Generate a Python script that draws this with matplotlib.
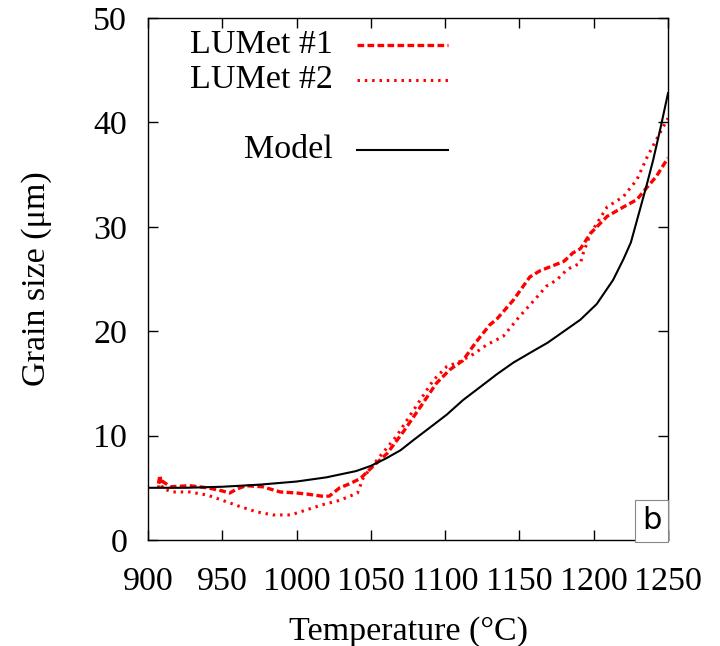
import matplotlib
matplotlib.use("Agg")
import matplotlib.pyplot as plt

# LUMet #1 (dashed)
t1 = [907, 908, 909, 910, 915, 928, 940, 950, 955, 960, 966, 977, 989, 1000, 1007, 1017,
      1022, 1029, 1036, 1043, 1051, 1061, 1072, 1085, 1094, 1103, 1112, 1121, 1130, 1135,
      1146, 1157, 1164, 1173, 1180, 1186, 1191, 1198, 1209, 1220, 1229, 1236, 1242, 1250]
v1 = [5.4, 6.2, 5.3, 5.6, 5.1, 5.2, 5.0, 4.7, 4.5, 4.9, 5.2, 5.1, 4.6, 4.5, 4.4, 4.2,
      4.2, 5.0, 5.4, 5.9, 7.0, 8.3, 10.4, 13.1, 15.0, 16.3, 17.2, 19.0, 20.6, 21.2,
      23.0, 25.2, 25.8, 26.3, 26.7, 27.5, 27.9, 29.4, 31.0, 31.9, 32.6, 33.8, 34.8, 36.6]

# LUMet #2 (dotted)
t2 = [907, 908, 910, 917, 928, 940, 950, 962, 973, 984, 996, 1007, 1018, 1029, 1041, 1045,
      1056, 1067, 1079, 1092, 1101, 1110, 1119, 1128, 1139, 1150, 1162, 1168, 1175, 1182,
      1186, 1191, 1193, 1198, 1209, 1220, 1229, 1236, 1242, 1248, 1250]
v2 = [5.0, 5.8, 4.9, 4.6, 4.6, 4.3, 3.8, 3.2, 2.7, 2.4, 2.4, 2.9, 3.4, 3.8, 4.5, 6.0,
      8.0, 9.9, 12.5, 15.3, 16.6, 17.1, 17.8, 18.7, 19.5, 21.4, 23.3, 24.3, 24.9, 25.9,
      26.2, 26.5, 27.5, 29.4, 31.9, 32.9, 34.5, 36.7, 38.3, 39.9, 40.4]

# Model
tm = [900, 925, 950, 975, 1000, 1020, 1040, 1050, 1060, 1070, 1078, 1090, 1101, 1112, 1124,
      1135, 1146, 1158, 1169, 1180, 1191, 1202, 1213, 1220, 1225, 1231, 1236, 1240, 1245, 1250]
vm = [5.0, 5.0, 5.1, 5.3, 5.6, 6.0, 6.6, 7.1, 7.8, 8.6, 9.5, 10.8, 12.0, 13.4, 14.7,
      15.9, 17.0, 18.0, 18.9, 20.0, 21.1, 22.6, 24.9, 26.9, 28.5, 31.6, 34.2, 36.4, 39.5, 42.8]

labels = ["LUMet #1", "LUMet #2", "Model"]
xticks = [900, 950, 1000, 1050, 1100, 1150, 1200, 1250]
yticks = [0, 10, 20, 30, 40, 50]

plt.rcParams['font.family'] = ['Liberation Serif', 'DejaVu Serif']
FS = 24.5

fig = plt.figure(figsize=(7.2, 6.46), dpi=100)
ax = fig.add_axes([0.2056, 0.1641, 0.7222, 0.8080])

red_dash = dict(color='#ff0000', lw=2.4, linestyle=(0, (2.0, 1.0)))
red_dot = dict(color='#ff0000', lw=2.2, linestyle=(0, (0.8, 1.6)))
black = dict(color='black', lw=1.5, linestyle='-')

ax.plot(t1, v1, **red_dash)
ax.plot(t2, v2, **red_dot)
ax.plot(tm, vm, **black)

ax.set_xlim(900, 1250)
ax.set_ylim(0, 50)
ax.set_xticks(xticks)
ax.set_yticks(yticks)
ax.tick_params(direction='in', top=True, right=True, length=7, width=1,
               labelsize=FS)
ax.tick_params(axis='x', pad=19)
ax.tick_params(axis='y', pad=15)
for s in ax.spines.values():
    s.set_linewidth(1.0)

ax.set_xlabel("Temperature (°C)", fontsize=FS, labelpad=14)
ax.set_ylabel("Grain size (μm)", fontsize=FS, labelpad=30)

# manual legend (right-aligned labels)
leg_y = [0.948, 0.881, 0.747]
styles = [red_dash, red_dot, black]
for lab, yy, st in zip(labels, leg_y, styles):
    ax.text(0.356, yy, lab, transform=ax.transAxes, ha='right', va='center', fontsize=FS)
    ax.plot([0.402, 0.577], [yy, yy], transform=ax.transAxes, clip_on=False, **st)

# panel label
ax.text(0.969, 0.0365, "b", transform=ax.transAxes, ha='center', va='center',
        fontsize=22, family='DejaVu Sans',
        bbox=dict(boxstyle='square,pad=0.22', fc='white', ec='#888888', lw=0.8))

fig.savefig("out.png", dpi=100)
